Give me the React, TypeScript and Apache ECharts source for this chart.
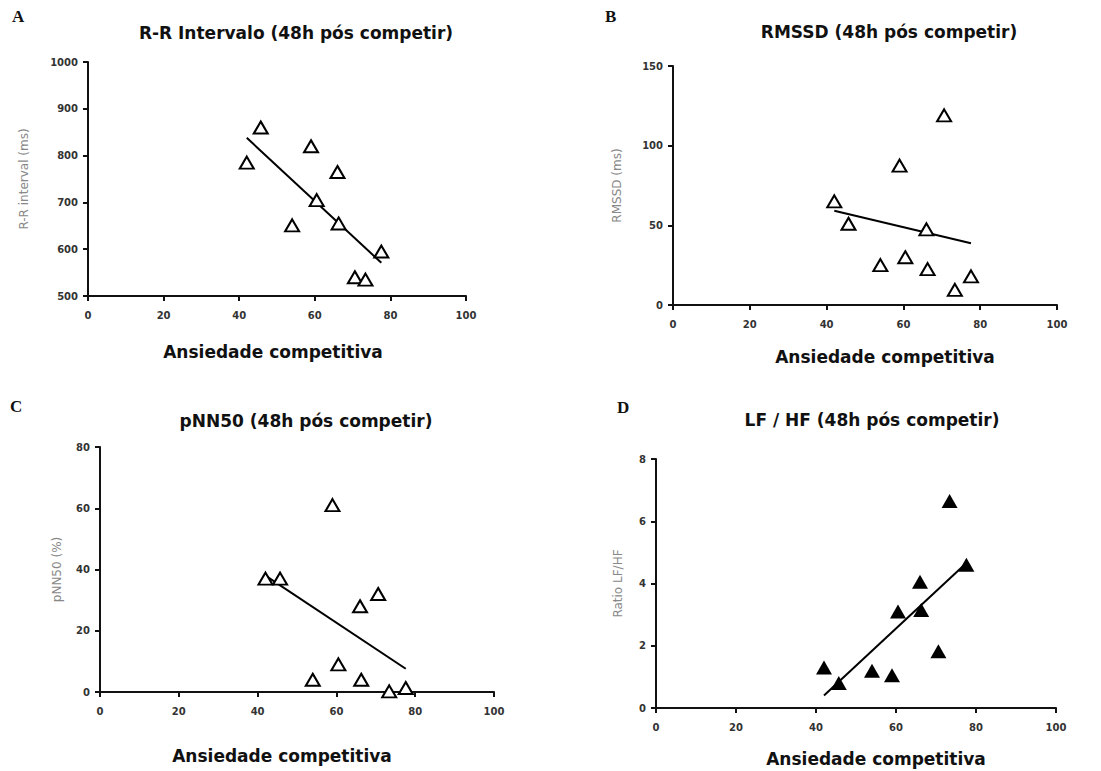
import React, { useEffect, useRef } from "react";
import * as echarts from "echarts";

// Competitive anxiety score (x) shared by the four panels
const anxiety = [42, 45.7, 54, 59, 60.5, 66, 66.3, 70.6, 73.4, 77.6];
// Panel values
const rrInterval = [785, 860, 651, 820, 705, 765, 655, 540, 535, 595];
const rmssd = [65, 51, 25, 87.5, 30, 47.5, 22.5, 119, 9.5, 18];
const pnn50 = [37, 37, 4, 61, 9, 28, 4, 32, 0.2, 1.3];
const lfhf = [1.3, 0.8, 1.2, 1.05, 3.1, 4.06, 3.15, 1.82, 6.65, 4.6];
// Regression line end points (x, y)
const fitA = [[42, 838], [77.6, 571]];
const fitB = [[42, 59.2], [77.6, 38.7]];
const fitC = [[42, 38], [77.6, 7.6]];
const fitD = [[42, 0.4], [77.6, 4.66]];

const panelTitles = [
  "R-R Intervalo (48h pós competir)",
  "RMSSD (48h pós competir)",
  "pNN50 (48h pós competir)",
  "LF / HF (48h pós competir)",
];
const panelLetters = ["A", "B", "C", "D"];
const yNames = ["R-R interval (ms)", "RMSSD (ms)", "pNN50 (%)", "Ratio LF/HF"];
const xName = "Ansiedade competitiva";
const yRanges = [
  [500, 1000, 100],
  [0, 150, 50],
  [0, 80, 20],
  [0, 8, 2],
];

export default function App() {
  const ref = useRef<HTMLDivElement>(null);
  useEffect(() => {
    if (!ref.current) return;
    const chart = echarts.init(ref.current, null, { renderer: "svg" });
    const grids = [
      { left: 88, top: 62, width: 378, height: 234 },
      { left: 673, top: 66, width: 384, height: 239 },
      { left: 100, top: 447, width: 394, height: 245 },
      { left: 656, top: 459, width: 400, height: 249 },
    ];
    const titlePos = [
      { x: 296, y: 24 },
      { x: 889, y: 23 },
      { x: 306, y: 412 },
      { x: 872, y: 411 },
    ];
    const letterPos = [
      { x: 12, y: 8 },
      { x: 605, y: 8 },
      { x: 10, y: 398 },
      { x: 617, y: 399 },
    ];
    const yGaps = [58, 50, 37, 32];
    const xGaps = [47, 43, 55, 42];
    const xPads = [
      [0, 8, 0, 0],
      [0, 0, 0, 40],
      [0, 30, 0, 0],
      [0, 0, 0, 40],
    ];
    const values = [rrInterval, rmssd, pnn50, lfhf];
    const fits = [fitA, fitB, fitC, fitD];

    const axisLine = { show: true, lineStyle: { color: "#111", width: 2 } };
    const axisTick = { show: true, length: 5, lineStyle: { color: "#111", width: 2 } };
    const axisLabel = {
      color: "#333",
      fontSize: 10,
      fontWeight: "bold",
      fontFamily: "DejaVu Sans",
      formatter: (v: number) => String(v),
    };

    const titles: any[] = [];
    panelTitles.forEach((t, i) => {
      titles.push({
        text: t,
        left: titlePos[i].x,
        top: titlePos[i].y,
        textAlign: "center",
        padding: 0,
        textStyle: {
          fontFamily: "DejaVu Sans",
          fontWeight: "bold",
          fontSize: 17,
          color: "#111",
        },
      });
      titles.push({
        text: panelLetters[i],
        left: letterPos[i].x,
        top: letterPos[i].y,
        padding: 0,
        textStyle: {
          fontFamily: "Liberation Serif",
          fontWeight: "bold",
          fontSize: 17,
          color: "#111",
        },
      });
    });

    const xAxis = grids.map((_, i) => ({
      type: "value",
      gridIndex: i,
      min: 0,
      max: 100,
      interval: 20,
      splitLine: { show: false },
      axisLine,
      axisTick,
      axisLabel: { ...axisLabel, margin: 14 },
      name: xName,
      nameLocation: "middle",
      nameGap: xGaps[i],
      nameTextStyle: {
        fontFamily: "DejaVu Sans",
        fontWeight: "bold",
        fontSize: 17,
        color: "#111",
        padding: xPads[i],
      },
    }));
    const yAxis = grids.map((_, i) => ({
      type: "value",
      gridIndex: i,
      min: yRanges[i][0],
      max: yRanges[i][1],
      interval: yRanges[i][2],
      splitLine: { show: false },
      axisLine,
      axisTick,
      axisLabel: { ...axisLabel, margin: 10 },
      name: yNames[i],
      nameLocation: "middle",
      nameGap: yGaps[i],
      nameTextStyle: {
        fontFamily: "DejaVu Sans",
        fontSize: 12,
        color: "#888",
      },
    }));

    const series: any[] = [];
    values.forEach((vals, i) => {
      series.push({
        type: "scatter",
        xAxisIndex: i,
        yAxisIndex: i,
        clip: false,
        symbol: "triangle",
        symbolSize: i === 3 ? [16, 14] : [14, 12],
        itemStyle:
          i === 3
            ? { color: "#000", opacity: 1 }
            : { color: "#fff", borderColor: "#000", borderWidth: 2, opacity: 1 },
        data: anxiety.map((x, k) => [x, vals[k]]),
        z: 3,
      });
      series.push({
        type: "line",
        xAxisIndex: i,
        yAxisIndex: i,
        showSymbol: false,
        symbol: "none",
        lineStyle: { color: "#000", width: 2 },
        data: fits[i],
        z: 2,
      });
    });

    chart.setOption({
      animation: false,
      backgroundColor: "#fff",
      title: titles,
      grid: grids,
      xAxis,
      yAxis,
      series,
    });
    return () => chart.dispose();
  }, []);
  return (
    <div
      ref={ref}
      style={{ position: "absolute", left: 0, top: 0, width: 1101, height: 771, background: "#fff" }}
    />
  );
}
